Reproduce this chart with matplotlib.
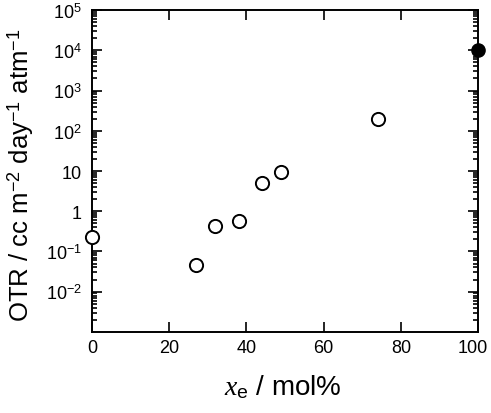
import matplotlib.pyplot as plt
from matplotlib.ticker import FixedLocator, LogLocator, NullFormatter
from matplotlib.transforms import ScaledTranslation

plt.rcParams['font.family'] = ['Liberation Sans', 'DejaVu Sans']
plt.rcParams['mathtext.fontset'] = 'custom'
plt.rcParams['mathtext.rm'] = 'Liberation Sans'
plt.rcParams['mathtext.it'] = 'Liberation Serif:italic'

# open circles
xe_open = [0, 27, 32, 38, 44, 49, 74]
otr_open = [0.23, 0.047, 0.43, 0.56, 5.0, 9.5, 200]
# filled circle
xe_fill = [100]
otr_fill = [1.05e4]

xtick_vals = [0, 20, 40, 60, 80, 100]
ytick_vals = [1e-2, 1e-1, 1, 10, 1e2, 1e3, 1e4, 1e5]
ytick_labels = ['10$^{-2}$', '10$^{-1}$', '1', '10', '10$^{2}$', '10$^{3}$', '10$^{4}$', '10$^{5}$']

fig = plt.figure(figsize=(4.91, 4.14), dpi=100)
ax = fig.add_axes([0.187, 0.196, 0.787, 0.777])

ax.plot(xe_open, otr_open, 'o', ms=9.5, mfc='white', mec='black', mew=1.4, clip_on=False, zorder=3)
ax.plot(xe_fill, otr_fill, 'o', ms=9.5, mfc='black', mec='black', clip_on=False, zorder=3)

ax.set_yscale('log')
ax.set_xlim(0, 100)
ax.set_ylim(1e-3, 1e5)
ax.set_xticks(xtick_vals)
ax.yaxis.set_major_locator(FixedLocator(ytick_vals))
ax.set_yticklabels(ytick_labels)
ax.yaxis.set_minor_locator(LogLocator(base=10, subs=range(2, 10), numticks=20))
ax.yaxis.set_minor_formatter(NullFormatter())

ax.tick_params(which='both', direction='in', top=True, right=True, labelsize=13, width=1.2)
ax.tick_params(which='major', length=7)
ax.tick_params(axis='y', pad=7)
ax.tick_params(axis='x', pad=5)
ax.tick_params(which='minor', length=3.5)
for s in ax.spines.values():
    s.set_linewidth(1.4)

# keep "100" inside the figure edge
last = ax.get_xticklabels()[-1]
last.set_transform(last.get_transform() + ScaledTranslation(-4 / 72, 0, fig.dpi_scale_trans))

fig.text(21 / 491, 1 - 175 / 414, 'OTR / cc m$^{-2}$ day$^{-1}$ atm$^{-1}$',
         fontsize=18.5, rotation=90, ha='center', va='center')
fig.text(283 / 491, 1 - 387 / 414, '$x_\\mathrm{e}$ / mol%',
         fontsize=20, ha='center', va='center')

fig.savefig('out.png', dpi=100)
